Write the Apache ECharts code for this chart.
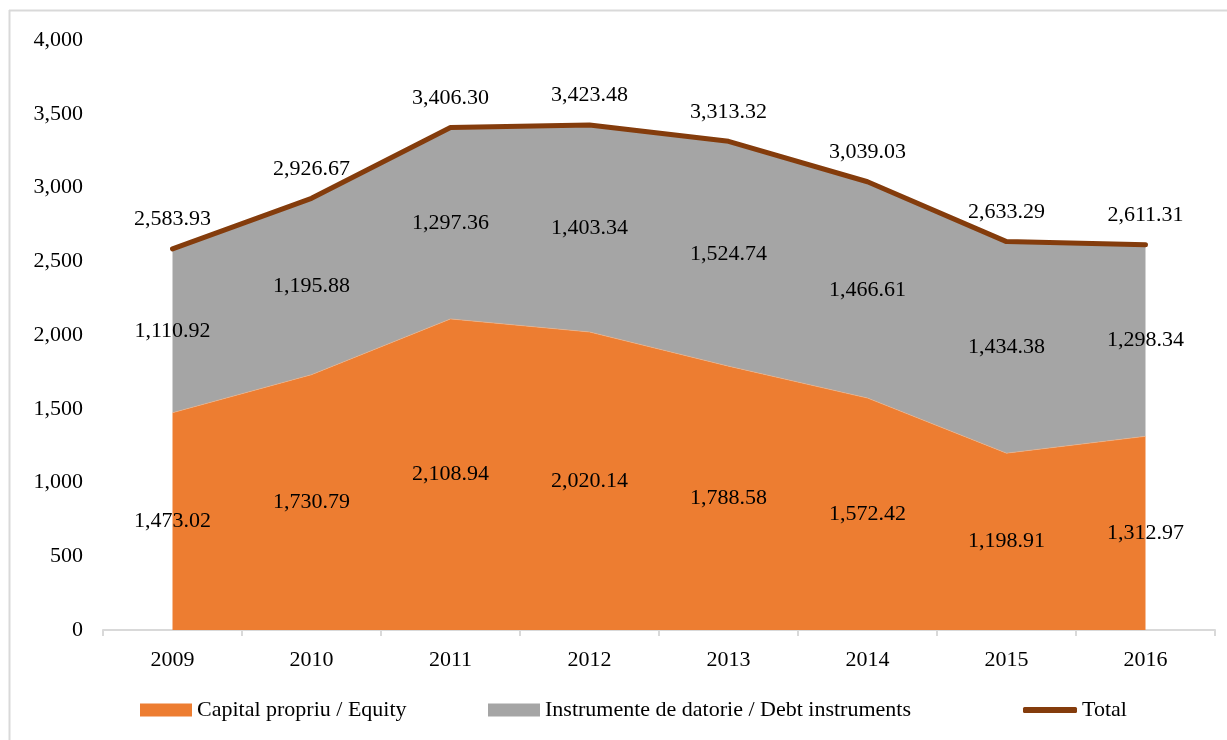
<!DOCTYPE html>
<html>
<head>
<meta charset="utf-8">
<script src="https://cdn.jsdelivr.net/npm/echarts@6/dist/echarts.min.js"></script>
<style>
  html, body { margin: 0; padding: 0; background: #fff; }
  #chart { width: 1227px; height: 740px; }
</style>
</head>
<body>
<div id="chart"></div>
<script>
const years = ['2009', '2010', '2011', '2012', '2013', '2014', '2015', '2016'];
const equity = [1473.02, 1730.79, 2108.94, 2020.14, 1788.58, 1572.42, 1198.91, 1312.97];
const debt = [1110.92, 1195.88, 1297.36, 1403.34, 1524.74, 1466.61, 1434.38, 1298.34];
const total = [2583.93, 2926.67, 3406.30, 3423.48, 3313.32, 3039.03, 2633.29, 2611.31];

const FONT = '"Liberation Serif", serif';
const FS = 22;

function fmt(v) {
    return Number(v).toLocaleString('en-US', { minimumFractionDigits: 2, maximumFractionDigits: 2 });
}

document.addEventListener('DOMContentLoaded', function () {
    const chart = echarts.init(document.getElementById('chart'));

    const legendText = { fontFamily: FONT, fontSize: FS, color: '#000' };

    const option = {
        animation: false,
        textStyle: { fontFamily: FONT },
        grid: { left: 103, right: 12, top: 40, bottom: 110 },
        graphic: [
            { type: 'line', shape: { x1: 9.5, y1: 10, x2: 9.5, y2: 740 }, style: { stroke: '#D9D9D9', lineWidth: 2 } },
            { type: 'line', shape: { x1: 9, y1: 10.5, x2: 1227, y2: 10.5 }, style: { stroke: '#D9D9D9', lineWidth: 2 } }
        ],
        legend: [
            {
                data: [{ name: 'Capital propriu / Equity', icon: 'rect' }],
                left: 135, top: 694,
                itemWidth: 52, itemHeight: 13,
                textStyle: legendText
            },
            {
                data: [{ name: 'Instrumente de datorie / Debt instruments', icon: 'rect' }],
                left: 483, top: 694,
                itemWidth: 52, itemHeight: 13,
                textStyle: legendText
            },
            {
                data: [{ name: 'Total', icon: 'roundRect' }],
                left: 1018, top: 694,
                itemWidth: 54, itemHeight: 6,
                textStyle: legendText
            }
        ],
        xAxis: {
            type: 'category',
            data: years,
            axisLine: { lineStyle: { color: '#D9D9D9', width: 2 } },
            axisTick: { show: true, length: 6, lineStyle: { color: '#D9D9D9', width: 2 } },
            axisLabel: { color: '#000', fontSize: FS, fontFamily: FONT, margin: 19 }
        },
        yAxis: {
            type: 'value',
            min: 0,
            max: 4000,
            interval: 500,
            axisLine: { show: false },
            axisTick: { show: false },
            splitLine: { show: false },
            axisLabel: {
                color: '#000', fontSize: FS, fontFamily: FONT, margin: 20,
                formatter: function (v) { return v.toLocaleString('en-US'); }
            }
        },
        series: [
            {
                name: 'Capital propriu / Equity',
                type: 'line',
                stack: 'area',
                data: equity,
                symbol: 'none',
                lineStyle: { width: 0.6, color: '#F4B183' },
                itemStyle: { color: '#ED7D31' },
                areaStyle: { color: '#ED7D31', opacity: 1 },
                silent: true
            },
            {
                name: 'Instrumente de datorie / Debt instruments',
                type: 'line',
                stack: 'area',
                data: debt,
                symbol: 'none',
                lineStyle: { width: 0 },
                itemStyle: { color: '#A5A5A5' },
                areaStyle: { color: '#A5A5A5', opacity: 1 },
                silent: true
            },
            {
                name: 'Total',
                type: 'line',
                data: total,
                z: 5,
                symbol: 'circle',
                symbolSize: 1,
                showSymbol: true,
                lineStyle: { width: 5, color: '#843C0C', cap: 'round', join: 'round' },
                itemStyle: { color: '#843C0C' },
                label: {
                    show: true,
                    position: 'top',
                    distance: 18,
                    color: '#000',
                    fontSize: FS,
                    fontFamily: FONT,
                    formatter: function (p) { return fmt(p.value); }
                },
                silent: true
            },
            // invisible stacked bars only used to centre the segment labels
            {
                name: 'equityLabels',
                type: 'bar',
                stack: 'labels',
                z: 10,
                data: equity,
                itemStyle: { color: 'rgba(0,0,0,0)' },
                label: {
                    show: true, position: 'inside', color: '#000', fontSize: FS, fontFamily: FONT,
                    formatter: function (p) { return fmt(p.value); }
                },
                silent: true
            },
            {
                name: 'debtLabels',
                type: 'bar',
                stack: 'labels',
                z: 10,
                data: debt,
                itemStyle: { color: 'rgba(0,0,0,0)' },
                label: {
                    show: true, position: 'inside', color: '#000', fontSize: FS, fontFamily: FONT,
                    formatter: function (p) { return fmt(p.value); }
                },
                silent: true
            }
        ]
    };

    chart.setOption(option);

    window.addEventListener('resize', function () {
        chart.resize();
    });
});
</script>
</body>
</html>
